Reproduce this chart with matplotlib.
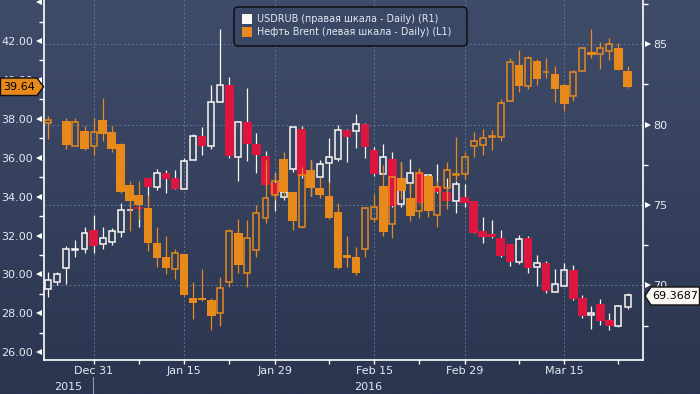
#!/usr/bin/env python3
"""USDRUB vs Brent daily candles, Dec 2015 - Mar 2016 (Bloomberg style)."""

import numpy as np
import matplotlib
matplotlib.use("Agg")
import matplotlib.pyplot as plt
from matplotlib.colors import LinearSegmentedColormap
from matplotlib.lines import Line2D
from matplotlib.patches import FancyBboxPatch, Polygon, Rectangle
from matplotlib.transforms import blended_transform_factory

nan = float("nan")

# USDRUB daily candles (right scale), one entry per trading day
usd_open = [69.75, 70.23, 71.10, 72.22, 72.28, 73.44, 72.59, 72.72, 73.34, 74.69,
            74.85, 76.68, 76.14, 76.97, 76.68, 76.02, 77.78, 79.29, 78.69, 81.39,
            82.45, 78.01, 80.17, 78.82, 78.05, 76.39, 75.48, 77.26, 79.73, 76.14,
            76.76, 77.59, 77.84, 79.67, 79.58, 80.02, 78.42, 76.95, 77.84, 75.04,
            76.39, 77.05, 76.35, 76.20, 75.83, 75.27, 75.48, 75.23, 73.36, 73.19,
            72.95, 72.57, 71.47, 72.95, 71.12, 71.39, 69.61, 69.98, 70.96, 69.21,
            68.13, 68.84, 67.84, 67.49, 68.67]
usd_high = [70.81, 70.81, 72.45, 72.82, 73.61, 74.38, 73.61, 73.55, 75.12, 74.69,
            74.85, 76.68, 77.24, 77.18, 77.18, 77.90, 79.42, 79.87, 82.47, 85.95,
            82.97, 80.14, 82.28, 79.46, 78.34, 76.97, 76.04, 79.87, 79.92, 77.80,
            77.80, 79.15, 79.96, 79.70, 80.64, 80.08, 78.59, 78.78, 78.28, 77.67,
            77.84, 77.26, 76.91, 77.55, 76.68, 76.47, 76.31, 75.23, 74.25, 74.07,
            73.44, 72.57, 73.13, 73.07, 71.89, 71.54, 71.02, 71.41, 71.27, 69.38,
            68.72, 69.13, 68.26, 68.78, 69.50]
usd_low = [69.30, 70.02, 70.08, 71.79, 71.99, 72.03, 72.28, 72.49, 73.03, 74.69,
           73.61, 75.10, 75.93, 75.77, 76.02, 76.00, 77.78, 78.11, 78.49, 81.39,
           77.95, 76.51, 77.76, 77.01, 76.27, 74.65, 75.29, 77.07, 76.70, 75.58,
           76.70, 76.39, 77.72, 77.70, 78.53, 77.95, 76.80, 76.90, 74.90, 74.85,
           75.73, 75.10, 76.14, 75.73, 75.25, 74.52, 74.90, 73.24, 72.66, 72.93,
           71.78, 71.20, 71.33, 70.79, 69.98, 69.50, 69.60, 69.95, 69.09, 67.99,
           67.30, 67.53, 67.22, 67.43, 68.55]
usd_close = [70.33, 70.69, 72.24, 72.28, 73.24, 72.47, 72.93, 73.36, 74.67, 74.69,
             74.73, 76.14, 76.97, 76.64, 76.02, 77.72, 79.27, 78.69, 81.39, 82.45,
             78.05, 80.14, 78.82, 78.09, 76.27, 75.68, 75.83, 79.83, 76.83, 76.76,
             77.53, 77.97, 79.65, 79.25, 80.02, 78.63, 76.95, 77.99, 74.96, 76.56,
             76.97, 75.14, 76.87, 75.83, 75.27, 76.31, 75.14, 73.28, 73.01, 73.01,
             71.85, 71.45, 72.88, 71.10, 71.37, 69.67, 70.06, 70.93, 69.17, 68.11,
             68.26, 67.80, 67.49, 68.72, 69.3687]

# Brent daily candles (left scale); no trade on day 1 (Dec 25)
brent_open = [37.80, nan, 37.89, 36.62, 37.37, 36.62, 37.94, 37.32, 36.70, 34.60,
              34.08, 33.43, 31.60, 30.88, 30.29, 31.05, 28.79, 28.79, 28.68, 28.00,
              29.63, 32.11, 30.06, 31.25, 32.88, 34.10, 35.93, 34.24, 32.45, 35.37,
              34.44, 34.03, 33.21, 31.00, 30.88, 31.32, 32.83, 34.55, 32.57, 34.96,
              33.93, 33.28, 35.08, 33.05, 34.43, 35.11, 35.15, 36.62, 36.65, 37.08,
              37.08, 38.93, 40.77, 39.70, 40.97, 40.41, 40.30, 39.74, 39.19, 40.48,
              41.43, 41.35, 41.50, 41.64, 40.46]
brent_high = [38.14, nan, 38.02, 38.02, 37.63, 38.04, 39.07, 37.63, 36.74, 34.79,
              34.79, 34.08, 32.42, 31.97, 31.31, 31.05, 29.61, 30.28, 28.77, 29.87,
              32.33, 32.85, 32.80, 33.57, 35.88, 35.16, 36.28, 34.24, 35.54, 35.88,
              35.03, 34.73, 33.69, 31.97, 31.41, 33.48, 34.13, 35.61, 35.06, 35.78,
              34.68, 35.45, 35.16, 34.82, 35.78, 37.08, 36.29, 37.32, 37.48, 37.42,
              39.02, 41.13, 41.54, 41.23, 41.09, 41.13, 40.71, 39.79, 40.51, 41.67,
              42.62, 41.95, 42.15, 41.90, 40.71]
brent_low = [36.98, nan, 36.46, 36.60, 36.40, 36.16, 36.88, 36.29, 34.20, 32.25,
             32.85, 31.22, 30.40, 30.02, 29.78, 28.90, 27.72, 28.65, 27.14, 27.36,
             29.37, 30.09, 29.37, 30.91, 32.63, 33.83, 34.03, 32.28, 32.37, 34.05,
             33.91, 32.85, 30.30, 30.40, 29.97, 30.91, 32.71, 31.99, 31.89, 33.88,
             32.75, 32.92, 32.97, 32.45, 33.36, 34.85, 34.92, 36.05, 36.16, 36.40,
             36.88, 38.90, 39.40, 39.52, 39.72, 40.12, 38.88, 38.42, 38.92, 40.45,
             41.14, 40.58, 41.04, 40.50, 39.58]
brent_close = [37.94, nan, 36.65, 37.82, 36.45, 37.30, 37.24, 36.46, 34.25, 33.77,
               33.57, 31.60, 30.86, 30.35, 31.08, 28.94, 28.55, 28.68, 27.88, 29.28,
               32.21, 30.48, 31.85, 33.14, 33.91, 34.79, 34.25, 32.75, 35.09, 34.46,
               34.10, 32.92, 30.35, 30.86, 30.09, 33.40, 33.45, 32.20, 35.03, 34.29,
               33.00, 35.21, 33.28, 34.51, 35.37, 35.15, 36.04, 36.84, 37.00, 37.12,
               38.80, 40.90, 39.70, 41.11, 40.05, 40.42, 39.55, 38.78, 40.39, 41.62,
               41.26, 41.64, 41.83, 40.51, 39.64]

# axis ticks
date_ticks = [5, 15, 25, 36, 46, 57]
date_labels = ["Dec 31", "Jan 15", "Jan 29", "Feb 15", "Feb 29", "Mar 15"]
date_minor = [10, 20, 31, 41, 52, 63]
left_ticks = [26, 28, 30, 32, 34, 36, 38, 40, 42]
left_marks = left_ticks + [44]
left_minor = [27, 29, 31, 33, 35, 37, 39, 41, 43]
right_ticks = [70, 75, 80, 85]
right_minor = [67.5, 72.5, 77.5, 82.5, 87.5]

ORANGE = "#e8891c"
RED = "#dc163f"
WHITE = "#fbf7f2"
TEXT = "#e4ebf4"
GRID = "#5a7292"
W, H = 700, 394


def px(x, y):
    """Pixel (top-left origin) -> inches for dpi_scale_trans."""
    return x / 100, (H - y) / 100


def draw_candles(ax, o, h, l, c, up_color, down_color, wick_color, min_body):
    """Hollow candles for up days, wide filled ones for down days."""
    for i in range(len(o)):
        if np.isnan(o[i]):
            continue
        top, bot = max(o[i], c[i]), min(o[i], c[i])
        if c[i] < o[i]:
            ax.plot([i, i], [l[i], h[i]], color=wick_color, lw=0.9,
                    solid_capstyle="butt", zorder=2)
            height = max(top - bot, min_body)
            ax.add_patch(Rectangle((i - 0.48, top - height), 0.96, height,
                                   facecolor=down_color, edgecolor="none", zorder=3))
        else:
            ax.plot([i, i], [top, h[i]], color=up_color, lw=0.9,
                    solid_capstyle="butt", zorder=2)
            ax.plot([i, i], [l[i], bot], color=up_color, lw=0.9,
                    solid_capstyle="butt", zorder=2)
            ax.add_patch(Rectangle((i - 0.33, bot), 0.66, top - bot,
                                   facecolor="none", edgecolor=up_color, lw=1.1, zorder=3))


def main():
    fig = plt.figure(figsize=(W / 100, H / 100), dpi=100)

    # background gradient
    bg = fig.add_axes([0, 0, 1, 1], zorder=-10)
    cmap = LinearSegmentedColormap.from_list("bg", ["#3f4c69", "#2b3550"])
    bg.imshow(np.linspace(0, 1, 256).reshape(-1, 1), aspect="auto", cmap=cmap,
              extent=[0, 1, 0, 1])
    bg.axis("off")

    ax1 = fig.add_axes([44 / W, 34 / H, 599 / W, 360 / H])
    ax2 = ax1.twinx()
    ax1.set_zorder(2)
    ax2.set_zorder(1)
    ax1.patch.set_visible(False)
    ax2.patch.set_visible(False)

    ax1.set_xlim(-0.475, 65.71)
    ax1.set_ylim(25.60, 44.108)
    ax2.set_ylim(65.355, 87.757)

    # dashed grid follows the right scale
    for v in right_ticks:
        ax2.axhline(v, color=GRID, lw=0.75, ls=(0, (2, 2)), zorder=0)
    for t in date_ticks:
        ax2.axvline(t, color=GRID, lw=0.75, ls=(0, (2, 2)), zorder=0)

    draw_candles(ax2, usd_open, usd_high, usd_low, usd_close, WHITE, RED, WHITE, 0.12)
    draw_candles(ax1, brent_open, brent_high, brent_low, brent_close,
                 ORANGE, ORANGE, ORANGE, 0.1)

    # spines
    for s in ["top", "right"]:
        ax1.spines[s].set_visible(False)
    for s in ["top", "left", "bottom"]:
        ax2.spines[s].set_visible(False)
    for sp in [ax1.spines["left"], ax1.spines["bottom"], ax2.spines["right"]]:
        sp.set_color("white")
        sp.set_linewidth(1.2)

    # left ticks
    ax1.set_yticks(left_ticks)
    ax1.set_yticklabels([f"{v:.2f}" for v in left_ticks])
    ax1.set_yticks(left_minor, minor=True)
    ax1.tick_params(axis="y", which="major", length=0, pad=7.9, labelsize=8,
                    labelcolor=TEXT)
    ax1.tick_params(axis="y", which="minor", length=3.5, width=1, color="white")

    # right ticks
    ax2.set_yticks(right_ticks)
    ax2.set_yticklabels([str(v) for v in right_ticks])
    ax2.set_yticks(right_minor, minor=True)
    ax2.tick_params(axis="y", which="major", length=0, pad=7.2, labelsize=8,
                    labelcolor=TEXT)
    ax2.tick_params(axis="y", which="minor", length=3.5, width=1, color="white")

    # date ticks
    ax1.set_xticks(date_ticks)
    ax1.set_xticklabels(date_labels)
    ax1.set_xticks(date_minor, minor=True)
    ax1.tick_params(axis="x", which="both", length=3, width=1, color="white",
                    pad=1.5, labelsize=8, labelcolor=TEXT)

    # triangle tick markers
    tl = blended_transform_factory(ax1.transAxes, ax1.transData)
    ax1.plot([-5 / 599] * len(left_marks), left_marks, ls="none", marker="<",
             ms=5, mew=0, color="white", transform=tl, clip_on=False, zorder=5)
    tr = blended_transform_factory(ax2.transAxes, ax2.transData)
    ax2.plot([1 + 5 / 599] * len(right_ticks), right_ticks, ls="none", marker=">",
             ms=5, mew=0, color="white", transform=tr, clip_on=False, zorder=5)

    inch = fig.dpi_scale_trans

    # year labels and separator
    fig.text(*px(68, 390), "2015", transform=inch, ha="center", va="baseline",
             fontsize=8, color=TEXT)
    fig.text(*px(368, 390), "2016", transform=inch, ha="center", va="baseline",
             fontsize=8, color=TEXT)
    fig.add_artist(Line2D([0.933, 0.933], [px(0, 377)[1], 0], transform=inch,
                          color="#8e9bb0", lw=0.8))

    # legend
    x0, y0 = px(234, 46)
    fig.patches.append(FancyBboxPatch((x0, y0), 2.33, 0.39, transform=inch,
                                      boxstyle="round,pad=0,rounding_size=0.04",
                                      facecolor="#3b4865", edgecolor="#101318",
                                      lw=1.2, zorder=10))
    for y_top, color, label in [(14, WHITE, "USDRUB (правая шкала - Daily) (R1)"),
                                (27, ORANGE, "Нефть Brent (левая шкала - Daily) (L1)")]:
        rx, ry = px(242, y_top + 10)
        fig.patches.append(Rectangle((rx, ry), 0.095, 0.10, transform=inch,
                                     facecolor=color, edgecolor="none", zorder=11))
        fig.text(*px(257, y_top + 5), label, transform=inch, ha="left",
                 va="center", fontsize=6.9, color=TEXT, zorder=12)

    # last value tags
    left_tag = [px(0.5, 78), px(37, 78), px(43.5, 86.7), px(37, 95.5), px(0.5, 95.5)]
    fig.patches.append(Polygon(left_tag, closed=True, transform=inch,
                               facecolor=ORANGE, edgecolor="#111111", lw=1, zorder=10))
    fig.text(*px(19.5, 86.7), f"{brent_close[-1]:.2f}", transform=inch,
             ha="center", va="center", fontsize=8, color="black", zorder=12)
    right_tag = [px(645, 296), px(651, 287), px(699.5, 287), px(699.5, 305), px(651, 305)]
    fig.patches.append(Polygon(right_tag, closed=True, transform=inch,
                               facecolor=WHITE, edgecolor="#111111", lw=1, zorder=10))
    fig.text(*px(675, 296), f"{usd_close[-1]:.4f}", transform=inch,
             ha="center", va="center", fontsize=8, color="black", zorder=12)

    fig.savefig("out.png", dpi=100)
    plt.close(fig)


if __name__ == "__main__":
    main()
